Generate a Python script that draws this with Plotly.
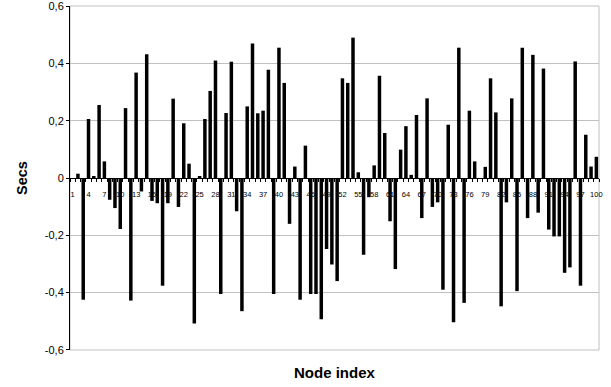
import plotly.graph_objects as go

node_index = list(range(1, 101))
secs = [
    0.0, 0.015, -0.425, 0.206, 0.005, 0.255, 0.058, -0.076, -0.105, -0.178,
    0.244, -0.428, 0.368, -0.047, 0.432, -0.08, -0.088, -0.376, -0.088, 0.277,
    -0.101, 0.191, 0.05, -0.508, 0.004, 0.206, 0.304, 0.41, -0.405, 0.227,
    0.406, -0.116, -0.465, 0.25, 0.47, 0.226, 0.235, 0.378, -0.405, 0.455,
    0.332, -0.16, 0.04, -0.425, 0.113, -0.405, -0.405, -0.493, -0.248, -0.302,
    -0.36, 0.348, 0.332, 0.49, 0.02, -0.268, -0.067, 0.044, 0.357, 0.157,
    -0.151, -0.318, 0.099, 0.181, 0.011, 0.22, -0.14, 0.278, -0.101, -0.085,
    -0.39, 0.186, -0.504, 0.455, -0.436, 0.235, 0.058, 0.0, 0.039, 0.348,
    0.229, -0.448, -0.085, 0.278, -0.395, 0.455, -0.14, 0.43, -0.121, 0.382,
    -0.18, -0.204, -0.204, -0.331, -0.312, 0.407, -0.376, 0.151, 0.04, 0.074,
]
x_tickvals = list(range(1, 101, 3))
x_ticktext = [str(v) for v in x_tickvals]
y_tickvals = [-0.6, -0.4, -0.2, 0, 0.2, 0.4, 0.6]
y_ticktext = ["-0,6", "-0,4", "-0,2", "0", "0,2", "0,4", "0,6"]

FONT = "Liberation Sans, Arial, sans-serif"

fig = go.Figure()
fig.add_trace(go.Bar(
    x=node_index, y=secs,
    marker=dict(color="black", line=dict(width=0)),
))

fig.update_layout(
    width=611, height=387,
    margin=dict(l=70, r=12, t=6, b=37),
    paper_bgcolor="white", plot_bgcolor="white",
    bargap=0.34,
    showlegend=False,
    font=dict(family=FONT, color="black"),
    xaxis=dict(
        automargin=False,
        range=[0.5, 100.5],
        anchor="free", position=0.5,
        tickmode="array", tickvals=x_tickvals, ticktext=x_ticktext,
        tickfont=dict(size=7.5, family=FONT, color="black"),
        ticks="outside", ticklen=9, tickcolor="rgba(0,0,0,0)",
        minor=dict(ticks="outside", ticklen=3, tick0=0.5, dtick=1,
                   tickcolor="black", showgrid=False),
        showline=True, linecolor="black", linewidth=1,
        showgrid=False, zeroline=False,
        layer="below traces",
    ),
    yaxis=dict(
        automargin=False,
        range=[-0.6005, 0.6005],
        tickmode="array", tickvals=y_tickvals, ticktext=y_ticktext,
        tickfont=dict(size=11, family=FONT, color="black"),
        ticklabeloverflow="allow",
        ticks="outside", ticklen=3, tickcolor="black",
        showline=True, linecolor="black", linewidth=1,
        showgrid=True, gridcolor="#c0c0c0", gridwidth=1,
        zeroline=False,
    ),
    shapes=[dict(type="rect", xref="paper", yref="paper", x0=0, x1=1, y0=0, y1=1,
                 line=dict(color="#c0c0c0", width=1), layer="below")],
    annotations=[
        dict(text="<b>Node index</b>", xref="paper", yref="paper",
             x=0.5, y=(350 - 373) / 344, xanchor="center", yanchor="middle",
             showarrow=False, font=dict(size=15, family=FONT, color="black")),
        dict(text="<b>Secs</b>", xref="paper", yref="paper",
             x=(22 - 70) / 529, y=0.5, xanchor="center", yanchor="middle",
             textangle=-90, showarrow=False,
             font=dict(size=14.5, family=FONT, color="black")),
    ],
)

fig.write_html("out.html")
